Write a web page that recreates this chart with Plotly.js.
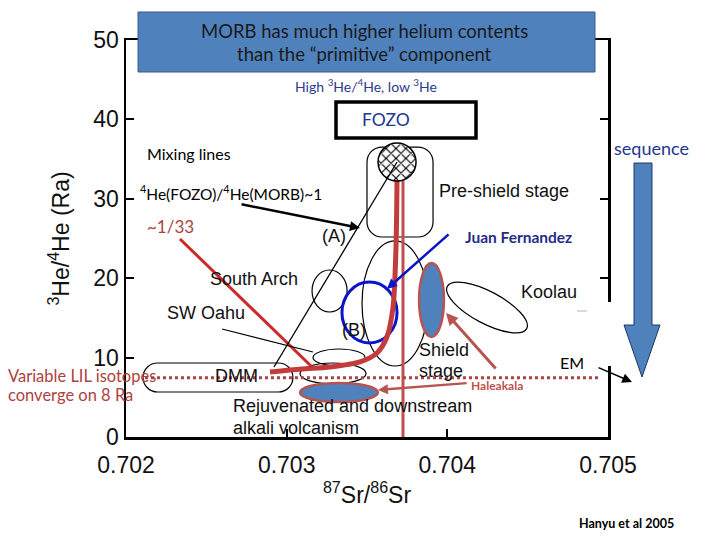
<!DOCTYPE html>
<html><head><meta charset="utf-8">
<script src="https://cdn.plot.ly/plotly-3.0.1.min.js"></script>
<style>html,body{margin:0;padding:0;background:#fff}#chart{width:720px;height:540px}</style>
</head><body><div id="chart"></div>
<script>
// ---------- axis ticks ----------
const xTicks = [0.702, 0.703, 0.704, 0.705];
const xTickLabels = ['0.702', '0.703', '0.704', '0.705'];
const yTicks = [0, 10, 20, 30, 40, 50];

// ---------- mixing curves (87Sr/86Sr , 3He/4He Ra) ----------
const curveSr = [0.703687, 0.703680, 0.703662, 0.703624, 0.703562, 0.703456, 0.703270, 0.703095, 0.702896];
const curveHe = [32.6, 23.55, 16.37, 12.59, 10.58, 9.45, 8.82, 8.56, 8.19];
const line33Sr = [0.702336, 0.703158];
const line33He = [24.94, 8.82];
const fozoVertSr = [0.703724, 0.703724];
const fozoVertHe = [32.6, 0];
const lineASr = [0.703687, 0.702921];
const lineAHe = [34.63, 8.82];
const lilSr = [0.702118, 0.70495];
const lilHe = [7.45, 7.45];
const swOahuPtrSr = [0.702598, 0.703164];
const swOahuPtrHe = [13.60, 10.71];

// ---------- FOZO component ----------
const fozoSr = 0.703687;
const fozoHe = 34.63;

// ---------- fields (ellipses) ----------
const fieldNames  = ['Big oval', 'South Arch', 'SW Oahu a', 'SW Oahu b', 'B circle', 'Shield', 'Rejuvenated'];
const fieldSrMin  = [0.703469, 0.703158, 0.703164, 0.703083, 0.703344, 0.703824, 0.703083];
const fieldSrMax  = [0.703880, 0.703376, 0.703488, 0.703494, 0.703687, 0.703979, 0.703568];
const fieldHeMin  = [8.94, 15.74, 8.94, 6.68, 11.84, 12.59, 4.41];
const fieldHeMax  = [24.69, 21.03, 11.08, 9.32, 19.52, 21.91, 6.80];

// Koolau (tilted ellipse, bezier nodes)
const koolauSr = [0.704494, 0.704468, 0.704337, 0.704200, 0.704064, 0.703974, 0.704000, 0.704025, 0.704157, 0.704294, 0.704430, 0.704520, 0.704494];
const koolauHe = [13.65, 12.67, 13.06, 14.53, 15.99, 17.98, 18.97, 19.95, 19.55, 18.09, 16.61, 14.63, 13.65];

// Pre-shield stage box and DMM field
const preShieldSr = [0.703500, 0.703911];
const preShieldHe = [25.19, 36.52];
const dmmSr = [0.702106, 0.703039];
const dmmHe = [5.67, 9.32];

// arrows [tailSr, tailHe, headSr, headHe]
const arrowFozoMorb = [0.702710, 29.35, 0.703456, 26.32];
const arrowJuan = [0.704017, 25.69, 0.703624, 18.64];
const arrowHale1 = [0.704309, 8.44, 0.703992, 15.62];
const arrowHale2 = [0.704129, 6.80, 0.703568, 5.92];

// ---------- helpers (layout positions only) ----------
const L = 126, T = 40, W = 482, H = 397;
const PX = px => (px - L) / W;
const PY = py => (T + H - py) / H;
const xr = [0.702, 0.705], yr = [0, 50];

function roundRect(x0, x1, y0, y1, rx, ry) {
  const k = 0.5523;
  return `M${x0+rx},${y0} L${x1-rx},${y0} C${x1-rx+k*rx},${y0} ${x1},${y0+ry-k*ry} ${x1},${y0+ry} ` +
         `L${x1},${y1-ry} C${x1},${y1-ry+k*ry} ${x1-rx+k*rx},${y1} ${x1-rx},${y1} ` +
         `L${x0+rx},${y1} C${x0+rx-k*rx},${y1} ${x0},${y1-ry+k*ry} ${x0},${y1-ry} ` +
         `L${x0},${y0+ry} C${x0},${y0+ry-k*ry} ${x0+rx-k*rx},${y0} ${x0+rx},${y0} Z`;
}
function bezPath(xs, ys) {
  let s = `M${xs[0]},${ys[0]}`;
  for (let i = 1; i < xs.length; i += 3) {
    s += ` C${xs[i]},${ys[i]} ${xs[i+1]},${ys[i+1]} ${xs[i+2]},${ys[i+2]}`;
  }
  return s + ' Z';
}
const pxPerSr = W / (xr[1] - xr[0]);
const pxPerHe = H / (yr[1] - yr[0]);

const CAL = 'Lato, "Open Sans", sans-serif';
const ARI = '"Liberation Sans", Arial, sans-serif';
const RED = '#C0504D';
const BLUE = '#4F81BD';

// ---------- traces ----------
const traces = [
  {x: curveSr, y: curveHe, type: 'scatter', mode: 'lines', line: {color: '#C43B3B', width: 5, shape: 'spline', smoothing: 0.8}, hoverinfo: 'skip'},
  {x: line33Sr, y: line33He, type: 'scatter', mode: 'lines', line: {color: '#CC2A2A', width: 3}, hoverinfo: 'skip'},
  {x: fozoVertSr, y: fozoVertHe, type: 'scatter', mode: 'lines', line: {color: RED, width: 3}, hoverinfo: 'skip'},
  {x: lilSr, y: lilHe, type: 'scatter', mode: 'lines', line: {color: '#A94442', width: 3, dash: 'dot'}, hoverinfo: 'skip', cliponaxis: false},
  {type: 'pie', values: [1], labels: ['FOZO'], sort: false, textinfo: 'none', hoverinfo: 'skip',
   domain: {x: [(fozoSr - xr[0]) / (xr[1] - xr[0]) - 19 / W, (fozoSr - xr[0]) / (xr[1] - xr[0]) + 19 / W],
            y: [fozoHe / yr[1] - 19 / H, fozoHe / yr[1] + 19 / H]},
   marker: {colors: ['#fff'], line: {color: '#000', width: 1.5},
            pattern: {shape: 'x', fgcolor: '#000', bgcolor: '#fff', size: 7, solidity: 0.3}}}
];

// ---------- shapes ----------
const shapes = [];
const fieldStyle = [
  {line: {color: '#000', width: 1.2}, layer: 'below'},
  {line: {color: '#000', width: 1.2}, layer: 'below'},
  {line: {color: '#000', width: 1.2}, layer: 'below'},
  {line: {color: '#000', width: 1.2}, layer: 'below'},
  {line: {color: '#0A14C8', width: 3}, layer: 'below'},
  {line: {color: '#B85450', width: 2.5}, fillcolor: BLUE, layer: 'above'},
  {line: {color: '#B85450', width: 2.5}, fillcolor: BLUE, layer: 'above'}
];
fieldNames.forEach((n, i) => {
  shapes.push(Object.assign({type: 'circle', xref: 'x', yref: 'y',
    x0: fieldSrMin[i], x1: fieldSrMax[i], y0: fieldHeMin[i], y1: fieldHeMax[i]}, fieldStyle[i]));
});
shapes.push({type: 'path', xref: 'x', yref: 'y', path: bezPath(koolauSr, koolauHe), line: {color: '#000', width: 1.2}, layer: 'below'});
shapes.push({type: 'path', xref: 'x', yref: 'y', path: roundRect(preShieldSr[0], preShieldSr[1], preShieldHe[0], preShieldHe[1], 15 / pxPerSr, 15 / pxPerHe), line: {color: '#000', width: 1.2}, layer: 'below'});
shapes.push({type: 'path', xref: 'x', yref: 'y', path: roundRect(dmmSr[0], dmmSr[1], dmmHe[0], dmmHe[1], 14.5 / pxPerSr, (dmmHe[1] - dmmHe[0]) / 2), line: {color: '#000', width: 1.2}, layer: 'below'});
shapes.push({type: 'line', xref: 'x', yref: 'y', x0: lineASr[0], y0: lineAHe[0], x1: lineASr[1], y1: lineAHe[1], line: {color: '#000', width: 1.3}, layer: 'above'});
shapes.push({type: 'line', xref: 'x', yref: 'y', x0: swOahuPtrSr[0], y0: swOahuPtrHe[0], x1: swOahuPtrSr[1], y1: swOahuPtrHe[1], line: {color: '#000', width: 1.2}, layer: 'above'});
// slide decorations (paper)
shapes.push({type: 'rect', xref: 'paper', yref: 'paper', x0: PX(138), x1: PX(595), y0: PY(72), y1: PY(12), fillcolor: BLUE, line: {color: '#385D8A', width: 1}, layer: 'above'});
shapes.push({type: 'rect', xref: 'paper', yref: 'paper', x0: PX(336), x1: PX(476), y0: PY(138), y1: PY(102), fillcolor: '#fff', line: {color: '#000', width: 3.5}, layer: 'above'});
shapes.push({type: 'rect', xref: 'paper', yref: 'paper', x0: PX(574), x1: PX(633), y0: PY(366), y1: PY(302), fillcolor: '#fff', line: {width: 0}, layer: 'above'});
shapes.push({type: 'line', xref: 'paper', yref: 'paper', x0: PX(577), x1: PX(587), y0: PY(311), y1: PY(311), line: {color: '#cfcfcf', width: 1.5}, layer: 'above'});
const ap = [[634,163],[652,163],[652,325],[660,325],[642,377],[624,325],[634,325]];
shapes.push({type: 'path', xref: 'paper', yref: 'paper',
  path: 'M' + ap.map(p => PX(p[0]) + ',' + PY(p[1])).join(' L') + ' Z',
  fillcolor: BLUE, line: {color: '#1F3864', width: 1}, layer: 'above'});

// ---------- annotations ----------
const ann = [];
function txt(text, px, py, anchor, family, size, color, bold) {
  ann.push({text: bold ? '<b>' + text + '</b>' : text, x: PX(px), y: PY(py), xref: 'paper', yref: 'paper',
    xanchor: anchor, yanchor: 'middle', showarrow: false, font: {family: family, size: size, color: color}, borderpad: 0});
}
function arrow(a, color, width, head, size) {
  ann.push({x: a[2], y: a[3], ax: a[0], ay: a[1], xref: 'x', yref: 'y', axref: 'x', ayref: 'y', text: '',
    showarrow: true, arrowcolor: color, arrowwidth: width, arrowhead: head, arrowsize: size});
}
arrow(arrowFozoMorb, '#000', 2.5, 2, 0.8);
arrow(arrowJuan, '#0A14C8', 2.5, 2, 0.8);
arrow(arrowHale1, '#B85450', 3, 2, 0.8);
arrow(arrowHale2, '#B85450', 2.5, 2, 0.8);
ann.push({x: PX(632), y: PY(382), ax: -35, ay: -15, xref: 'paper', yref: 'paper', text: '', showarrow: true,
  arrowcolor: '#000', arrowwidth: 1.5, arrowhead: 2, arrowsize: 1.3});

txt('MORB has much higher helium contents', 364, 31, 'center', CAL, 18.5, '#1a1a1a');
txt('than the “primitive” component', 364, 54, 'center', CAL, 18.5, '#1a1a1a');
txt('High <sup>3</sup>He/<sup>4</sup>He, low <sup>3</sup>He', 366, 86, 'center', CAL, 14, '#2B3A8C');
txt('FOZO', 386, 120, 'center', CAL, 17.5, '#23368F');
txt('Mixing lines', 146, 153, 'left', CAL, 16, '#000');
txt('<sup>4</sup>He(FOZO)/<sup>4</sup>He(MORB)~1', 139, 192, 'left', CAL, 15.5, '#000');
txt('~1/33', 146, 226, 'left', CAL, 17, '#A94442');
txt('(A)', 334, 236, 'center', ARI, 18, '#111');
txt('Pre-shield stage', 438, 191, 'left', ARI, 18, '#111');
txt('Juan Fernandez', 464, 237, 'left', CAL, 15.5, '#1F2D86', true);
txt('South Arch', 209, 279, 'left', ARI, 18, '#111');
txt('Koolau', 520, 292, 'left', ARI, 18, '#111');
txt('SW Oahu', 166, 313, 'left', ARI, 18, '#111');
txt('(B)', 354, 330, 'center', ARI, 18, '#111');
txt('Shield', 418, 350, 'left', ARI, 18, '#111');
txt('stage', 418, 371, 'left', ARI, 18, '#111');
txt('DMM', 236, 376, 'center', ARI, 18, '#111');
txt('EM', 559, 362, 'left', CAL, 16, '#000');
txt('Haleakala', 470, 385, 'left', CAL, 12, RED, true);
txt('Rejuvenated and downstream', 232, 406, 'left', ARI, 18, '#111');
txt('alkali volcanism', 232, 428, 'left', ARI, 18, '#111');
txt('Variable LIL isotopes', 7, 376, 'left', CAL, 16.5, '#B0413E');
txt('converge on 8 Ra', 7, 395, 'left', CAL, 16.5, '#B0413E');
txt('sequence', 613, 148, 'left', CAL, 18, '#23368F');
txt('Hanyu et al 2005', 578, 523, 'left', CAL, 12.5, '#000', true);

const axisCommon = {
  ticks: 'inside', ticklen: 8, tickwidth: 2, tickcolor: '#000', showline: true, linecolor: '#000', linewidth: 2.5,
  mirror: 'ticks', showgrid: false, zeroline: false, fixedrange: true,
  tickfont: {family: ARI, size: 23, color: '#111'}
};
const layout = {
  width: 720, height: 540, margin: {l: L, r: 720 - L - W, t: T, b: 540 - T - H},
  paper_bgcolor: '#fff', plot_bgcolor: '#fff', showlegend: false,
  font: {family: ARI, color: '#111'},
  xaxis: Object.assign({}, axisCommon, {range: xr, tickvals: xTicks, ticktext: xTickLabels, ticklabelstandoff: 6,
    title: {text: '<sup>87</sup>Sr/<sup>86</sup>Sr', font: {family: ARI, size: 23, color: '#111'}, standoff: 10}}),
  yaxis: Object.assign({}, axisCommon, {range: yr, tickvals: yTicks, ticklabelstandoff: 0,
    title: {text: '<sup>3</sup>He/<sup>4</sup>He (Ra)', font: {family: ARI, size: 23, color: '#111'}, standoff: 18}}),
  shapes: shapes, annotations: ann
};
Plotly.newPlot('chart', traces, layout, {displayModeBar: false, staticPlot: true});
</script></body></html>
